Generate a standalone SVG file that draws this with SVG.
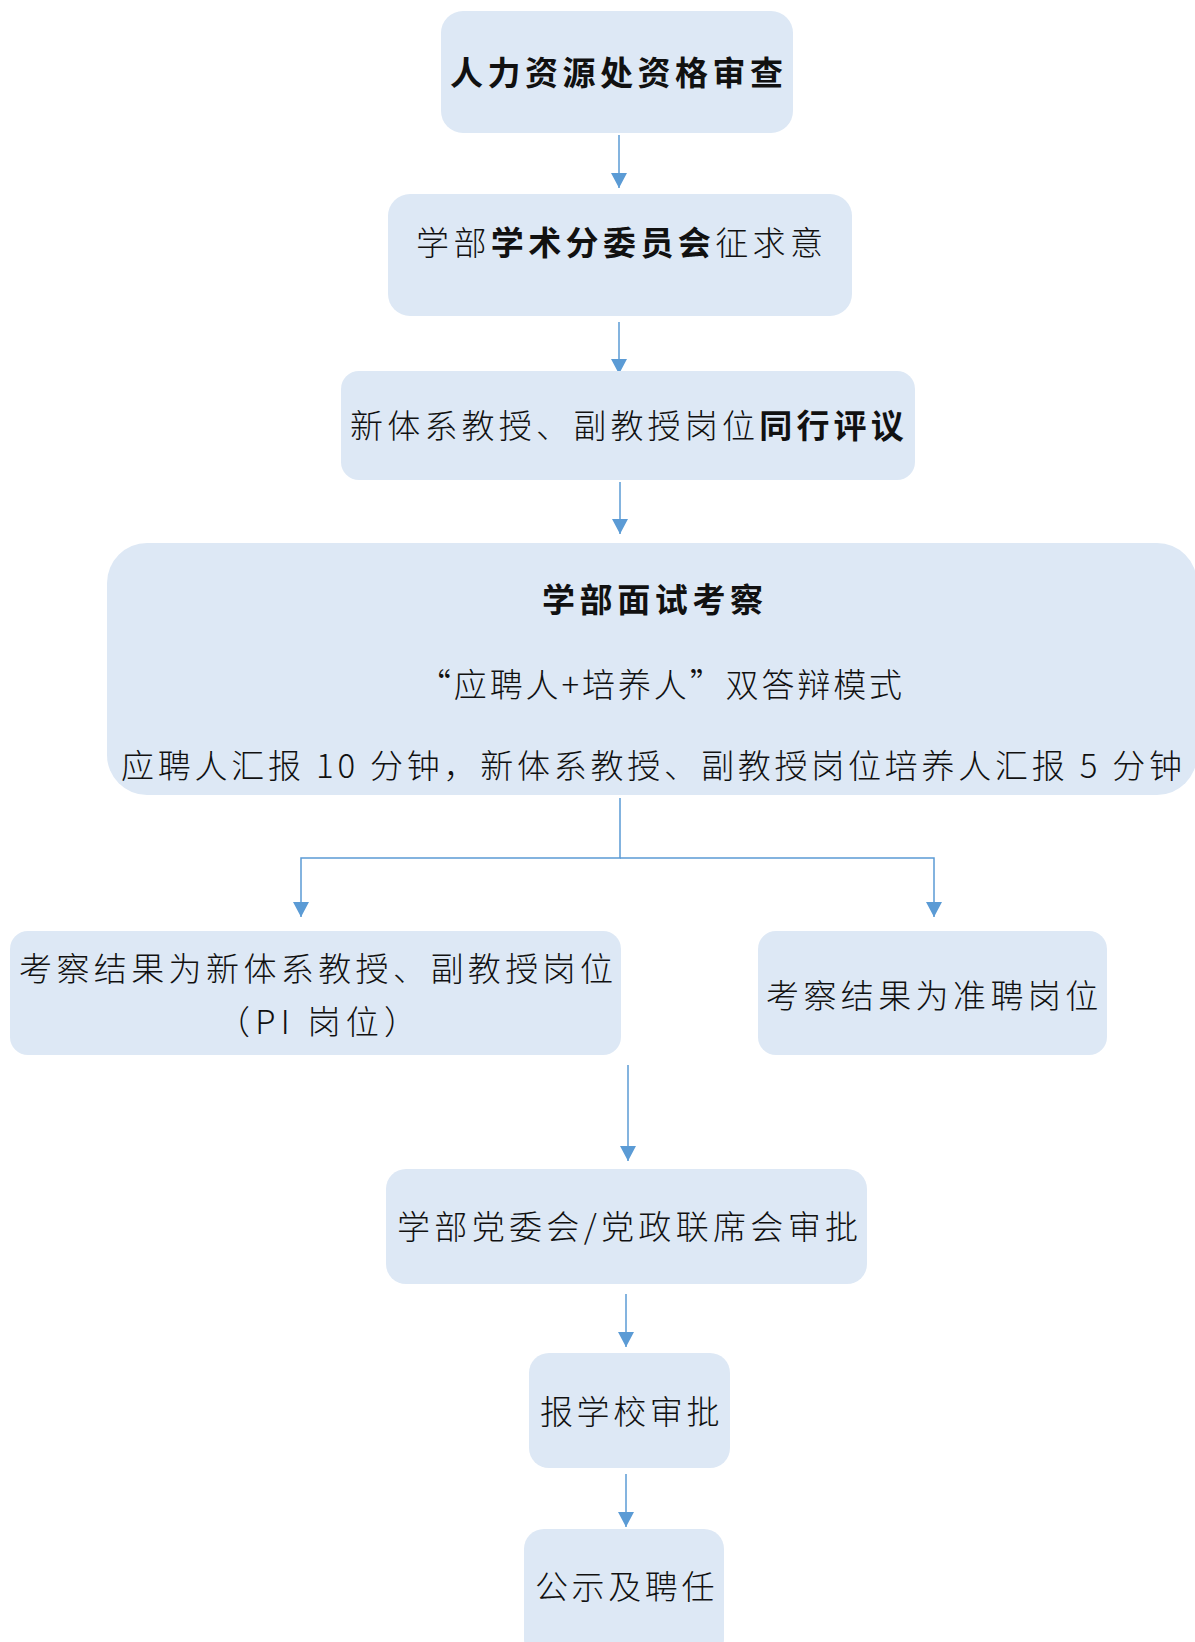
<svg xmlns="http://www.w3.org/2000/svg" width="1195" height="1642" viewBox="0 0 1195 1642">
<style>
.box{fill:#dde8f5;}
.t{font-family:"Noto Sans CJK SC","Liberation Serif",sans-serif;font-size:33px;fill:#111;font-weight:300;}
.b{font-weight:700;}
.c{fill:none;stroke:#5b9bd5;stroke-width:1.5;}
</style>
<defs>
<marker id="ah" viewBox="0 0 15 16" refX="15" refY="8" markerWidth="15" markerHeight="16" markerUnits="userSpaceOnUse" orient="auto">
<path d="M0,0 L15,8 L0,16 z" fill="#5b9bd5"/>
</marker>
</defs>
<rect width="1195" height="1642" fill="#ffffff"/>
<g id="connectors">
<path class="c" d="M619,135 V188" marker-end="url(#ah)"/>
<path class="c" d="M619,322 V374" marker-end="url(#ah)"/>
<path class="c" d="M620,482 V534" marker-end="url(#ah)"/>
<path class="c" d="M620,798 V858 H301 V917" marker-end="url(#ah)"/>
<path class="c" d="M620,858 H934 V917" marker-end="url(#ah)"/>
<path class="c" d="M628,1065 V1161" marker-end="url(#ah)"/>
<path class="c" d="M626,1294 V1347" marker-end="url(#ah)"/>
<path class="c" d="M626,1474 V1527" marker-end="url(#ah)"/>
</g>
<g id="n1">
<rect class="box" x="441" y="11" width="352" height="122" rx="22"/>
<text class="t b" x="450" y="85" letter-spacing="4.5">人力资源处资格审查</text>
</g>
<g id="n2">
<rect class="box" x="388" y="194" width="464" height="122" rx="22"/>
<text class="t" x="416" y="255" letter-spacing="4.4">学部<tspan class="b">学术分委员会</tspan>征求意</text>
</g>
<g id="n3">
<rect class="box" x="341" y="371" width="574" height="109" rx="18"/>
<text class="t" x="350" y="438" letter-spacing="4.2">新体系教授、副教授岗位<tspan class="b">同行评议</tspan></text>
</g>
<g id="n4">
<rect class="box" x="107" y="543" width="1090" height="252" rx="40"/>
<text class="t b" x="542" y="612" letter-spacing="4.6" font-size="32">学部面试考察</text>
<text class="t" x="418" y="697" font-size="31" textLength="484" lengthAdjust="spacing">“应聘人+培养人”双答辩模式</text>
<text class="t" x="121" y="778" font-size="31" textLength="1061" lengthAdjust="spacing">应聘人汇报 10 分钟，新体系教授、副教授岗位培养人汇报 5 分钟</text>
</g>
<g id="n5">
<rect class="box" x="10" y="931" width="611" height="124" rx="18"/>
<text class="t" x="19" y="981" letter-spacing="4.4">考察结果为新体系教授、副教授岗位</text>
<text class="t" x="217" y="1034" textLength="200" lengthAdjust="spacing">（PI 岗位）</text>
</g>
<g id="n6">
<rect class="box" x="758" y="931" width="349" height="124" rx="18"/>
<text class="t" x="766" y="1008" letter-spacing="4.4">考察结果为准聘岗位</text>
</g>
<g id="n7">
<rect class="box" x="386" y="1169" width="481" height="115" rx="20"/>
<text class="t" x="397" y="1239" textLength="461" lengthAdjust="spacing">学部党委会/党政联席会审批</text>
</g>
<g id="n8">
<rect class="box" x="529" y="1353" width="201" height="115" rx="20"/>
<text class="t" x="540" y="1424" letter-spacing="3.6">报学校审批</text>
</g>
<g id="n9">
<rect class="box" x="524" y="1529" width="200" height="130" rx="20"/>
<text class="t" x="535" y="1599" letter-spacing="3.6">公示及聘任</text>
</g>
</svg>
